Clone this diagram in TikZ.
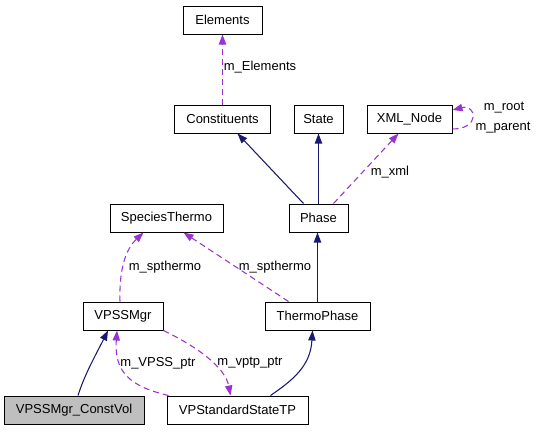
\documentclass[tikz,border=0pt]{standalone}
\usepackage{fontspec}
\setmainfont{Liberation Sans}
\usetikzlibrary{arrows.meta}
\definecolor{navy}{HTML}{191970}
\definecolor{purp}{HTML}{9A32CD}
\definecolor{boxgray}{HTML}{BFBFBF}
\begin{document}
\begin{tikzpicture}[x=0.75pt,y=-0.75pt,
  font=\fontsize{9.75}{11}\selectfont,
  cls/.style={draw=black, line width=0.75pt, minimum height=21pt, inner sep=0pt, fill=white},
  inh/.style={draw=navy, line width=0.8pt, -{Triangle[length=7.5pt,width=5.5pt]}},
  use/.style={draw=purp, line width=0.8pt, dash pattern=on 4.5pt off 3pt, -{Triangle[length=7.5pt,width=5.5pt]}},
  lbl/.style={inner sep=0pt}]
\useasboundingbox (0,0) rectangle (537,432);
% classes
\node[cls, minimum width=59.25pt] (elements) at (222.5,20) {Elements};
\node[cls, minimum width=72pt] (constituents) at (222.5,119) {Constituents};
\node[cls, minimum width=36.75pt] (state) at (318.5,119) {State};
\node[cls, minimum width=63.75pt] (xml) at (409.5,119) {XML\_Node};
\node[cls, minimum width=84.75pt] (species) at (166.5,218) {SpeciesThermo};
\node[cls, minimum width=44.25pt] (phase) at (318.5,218) {Phase};
\node[cls, minimum width=60pt] (vpssmgr) at (123,316) {VPSSMgr};
\node[cls, minimum width=78.75pt] (thermo) at (317.5,316) {ThermoPhase};
\node[cls, minimum width=105pt, fill=boxgray] (constvol) at (74,410) {VPSSMgr\_ConstVol};
\node[cls, minimum width=105.75pt] (vpst) at (237.5,410) {VPStandardStateTP};
% connectors
\draw[use] (constituents.north) -- (constituents.north |- elements.south);
\node[lbl] (lElements) at (260,67) {m\_Elements};
\draw[inh] ([xshift=-11.25pt]phase.north) -- ([xshift=11.25pt]constituents.south);
\draw[inh] (phase.north) -- (state.south);
\draw[use] ([xshift=11.25pt]phase.north) -- ([xshift=-8.25pt]xml.south);
\node[lbl] (lxml) at (390,172) {m\_xml};
\draw[use] ([yshift=-7.5pt]xml.east) .. controls +(28,0) and +(24,-6) .. ([yshift=6.75pt]xml.east);
\node[lbl] (lroot) at (504,108) {m\_root};
\node[lbl] (lparent) at (503,128) {m\_parent};
\draw[use] ([xshift=-2.25pt]vpssmgr.north) .. controls +(-1,-32) and +(-18,17) .. ([xshift=-17.25pt]species.south);
\node[lbl] (lsp1) at (165,267) {m\_spthermo};
\draw[use] ([xshift=-21.75pt]thermo.north) -- ([xshift=12.75pt]species.south);
\node[lbl] (lsp2) at (275,267) {m\_spthermo};
\draw[inh] (thermo.north) -- (thermo.north |- phase.south);
\draw[inh] ([xshift=3pt]constvol.north) .. controls +(7,-22) and +(-12,24) .. ([xshift=-11.25pt]vpssmgr.south);
\draw[inh] ([xshift=24.75pt]vpst.north) .. controls +(25,-17) and +(-2,34) .. ([xshift=-3.75pt]thermo.south);
\draw[use] ([xshift=-51.75pt]vpst.north) .. controls +(-38,-9) and +(-3,42) .. ([xshift=-4.5pt]vpssmgr.south);
\node[lbl] (lvpss) at (158,363) {m\_VPSS\_ptr};
\draw[use] (vpssmgr.south east) .. controls +(37,18) and +(-5,-27) .. ([xshift=-5.25pt]vpst.north);
\node[lbl] (lvptp) at (250,363) {m\_vptp\_ptr};
\end{tikzpicture}
\end{document}
